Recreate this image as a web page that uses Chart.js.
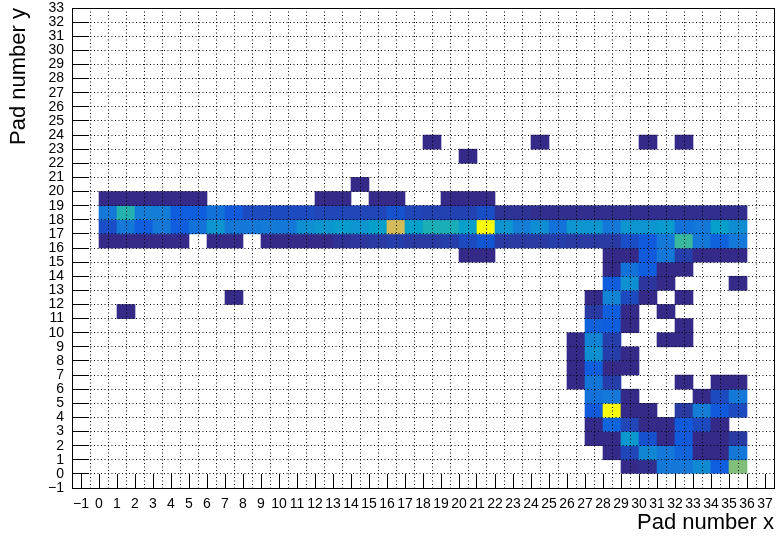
<!DOCTYPE html>
<html>
<head>
<meta charset="utf-8">
<title>Pad map</title>
<script src="https://cdn.jsdelivr.net/npm/chart.js@4.4.1/dist/chart.umd.min.js"></script>
<style>
    html, body { margin: 0; padding: 0; background: #fff; }
    #wrap { width: 782px; height: 540px; }
</style>
</head>
<body>
<div id="wrap"><canvas id="padmap" width="782" height="540"></canvas></div>
<script>
// Axis ranges / titles
const xMin = -1, xMax = 37
const yMin = -1, yMax = 33
const xTitle = "Pad number x"
const yTitle = "Pad number y"

// Hits per pad row, pad x = 0..35 (0 = empty pad)
//            x: 0 ...                          10 ...                         20 ...                         30 ... 35
const row0  = [0,0,0,0,0,0,0,0,0,0,  0,0,0,0,0,0,0,0,0,0,  0,0,0,0,0,0,0,0,0,1,  2,23,23,29,14,62]
const row1  = [0,0,0,0,0,0,0,0,0,0,  0,0,0,0,0,0,0,0,0,0,  0,0,0,0,0,0,0,0,1,8,  28,23,16,1,1,23]
const row2  = [0,0,0,0,0,0,0,0,0,0,  0,0,0,0,0,0,0,0,0,0,  0,0,0,0,0,0,0,1,1,34, 11,1,13,1,1,5]
const row3  = [0,0,0,0,0,0,0,0,0,0,  0,0,0,0,0,0,0,0,0,0,  0,0,0,0,0,0,0,1,16,8, 1,1,13,9,1,0]
const row4  = [0,0,0,0,0,0,0,0,0,0,  0,0,0,0,0,0,0,0,0,0,  0,0,0,0,0,0,0,13,100,1, 1,0,5,25,13,9]
const row5  = [0,0,0,0,0,0,0,0,0,0,  0,0,0,0,0,0,0,0,0,0,  0,0,0,0,0,0,0,21,23,1, 0,0,0,1,9,23]
const row6  = [0,0,0,0,0,0,0,0,0,0,  0,0,0,0,0,0,0,0,0,0,  0,0,0,0,0,0,1,22,6,0, 0,0,1,0,1,1]
const row7  = [0,0,0,0,0,0,0,0,0,0,  0,0,0,0,0,0,0,0,0,0,  0,0,0,0,0,0,1,14,1,1, 0,0,0,0,0,0]
const row8  = [0,0,0,0,0,0,0,0,0,0,  0,0,0,0,0,0,0,0,0,0,  0,0,0,0,0,0,1,31,6,1, 0,0,0,0,0,0]
const row9  = [0,0,0,0,0,0,0,0,0,0,  0,0,0,0,0,0,0,0,0,0,  0,0,0,0,0,0,1,27,6,0, 0,1,1,0,0,0]
const row10 = [0,0,0,0,0,0,0,0,0,0,  0,0,0,0,0,0,0,0,0,0,  0,0,0,0,0,0,0,15,14,1, 0,0,1,0,0,0]
const row11 = [0,1,0,0,0,0,0,0,0,0,  0,0,0,0,0,0,0,0,0,0,  0,0,0,0,0,0,0,5,14,1,  0,1,0,0,0,0]
const row12 = [0,0,0,0,0,0,0,1,0,0,  0,0,0,0,0,0,0,0,0,0,  0,0,0,0,0,0,0,1,27,9,  1,0,1,0,0,0]
const row13 = [0,0,0,0,0,0,0,0,0,0,  0,0,0,0,0,0,0,0,0,0,  0,0,0,0,0,0,0,0,14,31, 4,1,0,0,0,1]
const row14 = [0,0,0,0,0,0,0,0,0,0,  0,0,0,0,0,0,0,0,0,0,  0,0,0,0,0,0,0,0,1,21,  14,1,1,0,0,0]
const row15 = [0,0,0,0,0,0,0,0,0,0,  0,0,0,0,0,0,0,0,0,0,  1,1,0,0,0,0,0,0,1,1,   13,23,6,1,1,1]
const row16 = [1,1,1,1,1,0,1,1,0,1,  1,1,1,3,4,5,6,5,5,6,  9,12,5,5,5,6,5,5,5,10, 13,23,52,23,15,23]
const row17 = [10,23,14,23,14,21,33,23,23,24,  23,31,33,35,33,37,76,37,45,44,  37,100,33,25,30,21,33,33,23,33,  33,35,21,23,37,30]
const row18 = [23,47,25,25,14,14,21,13,9,9,  9,9,8,8,8,8,11,8,7,7,  7,10,3,3,2,2,2,2,2,2,  2,2,2,2,2,2]
const row19 = [1,1,1,1,1,1,0,0,0,0,  0,0,1,1,0,1,1,0,0,1,  1,1,0,0,0,0,0,0,0,0,  0,0,0,0,0,0]
const row20 = [0,0,0,0,0,0,0,0,0,0,  0,0,0,0,1,0,0,0,0,0,  0,0,0,0,0,0,0,0,0,0,  0,0,0,0,0,0]
const row21 = [0,0,0,0,0,0,0,0,0,0,  0,0,0,0,0,0,0,0,0,0,  0,0,0,0,0,0,0,0,0,0,  0,0,0,0,0,0]
const row22 = [0,0,0,0,0,0,0,0,0,0,  0,0,0,0,0,0,0,0,0,0,  1,0,0,0,0,0,0,0,0,0,  0,0,0,0,0,0]
const row23 = [0,0,0,0,0,0,0,0,0,0,  0,0,0,0,0,0,0,0,1,0,  0,0,0,0,1,0,0,0,0,0,  1,0,1,0,0,0]
const rows = [row0, row1, row2, row3, row4, row5, row6, row7, row8, row9, row10, row11,
    row12, row13, row14, row15, row16, row17, row18, row19, row20, row21, row22, row23]

// ROOT kBird palette
const birdStops = [0.0, 0.125, 0.25, 0.375, 0.5, 0.625, 0.75, 0.875, 1.0]
const birdR = [0.2082, 0.0592, 0.0780, 0.0232, 0.1802, 0.5301, 0.8186, 0.9956, 0.9764]
const birdG = [0.1664, 0.3599, 0.5041, 0.6419, 0.7178, 0.7492, 0.7328, 0.7862, 0.9832]
const birdB = [0.5293, 0.8684, 0.8385, 0.7914, 0.6425, 0.4662, 0.3499, 0.1968, 0.0539]

const fontFamily = "'Liberation Sans', Arial, Helvetica, sans-serif"

// build cells, each pad covers [x, x+1] x [y, y+1]
const cells = []
rows.forEach((row, y) => {
    row.forEach((v, x) => {
        if (v > 0) cells.push({ x: x + 0.5, y: [y, y + 1], v: v })
    })
})
const zMin = Math.min(...cells.map(c => c.v))
const zMax = Math.max(...cells.map(c => c.v))

const birdColor = (v) => {
    let f = (v - zMin) / (zMax - zMin)
    f = Math.max(0, Math.min(1, f))
    let i = 0
    while (i < birdStops.length - 2 && f > birdStops[i + 1]) i++
    const t = (f - birdStops[i]) / (birdStops[i + 1] - birdStops[i])
    const mix = (arr) => Math.round(255 * (arr[i] + t * (arr[i + 1] - arr[i])))
    return `rgb(${mix(birdR)},${mix(birdG)},${mix(birdB)})`
}

const tickText = (v) => v < 0 ? '\u2212' + Math.abs(v) : String(v)

// frame + solid inner tick marks like ROOT draws them
const frameTicks = {
    id: 'frameTicks',
    afterDraw(chart) {
        const { ctx, chartArea: a, scales: { x, y } } = chart
        const al = (p) => Math.round(p - 0.5) + 0.5
        ctx.save()
        ctx.strokeStyle = '#000'
        ctx.lineWidth = 1
        ctx.beginPath()
        for (let v = xMin; v <= xMax; v++) {
            const px = al(x.getPixelForValue(v))
            ctx.moveTo(px, a.bottom)
            ctx.lineTo(px, a.bottom - 14)
        }
        for (let v = yMin; v <= yMax; v++) {
            const py = al(y.getPixelForValue(v))
            ctx.moveTo(a.left, py)
            ctx.lineTo(a.left + 17, py)
        }
        ctx.stroke()
        ctx.strokeRect(al(a.left), al(a.top), al(a.right) - al(a.left), al(a.bottom) - al(a.top))
        ctx.restore()
    }
}

const ctx = document.getElementById("padmap").getContext('2d')
const chart = new Chart(ctx, {
    type: 'bar',
    data: {
        datasets: [{
            data: cells,
            backgroundColor: (c) => c.raw ? birdColor(c.raw.v) : 'transparent',
            borderWidth: 0,
            barPercentage: 1,
            categoryPercentage: 1
        }]
    },
    options: {
        responsive: false,
        animation: false,
        devicePixelRatio: 1,
        layout: { padding: { top: 0, right: 8, left: 0, bottom: 0 } },
        plugins: {
            legend: { display: false },
            tooltip: { enabled: false }
        },
        scales: {
            x: {
                type: 'linear',
                min: xMin,
                max: xMax,
                afterFit: (s) => { s.height = 52 },
                grid: { color: '#000', lineWidth: 1, drawTicks: false, z: 1 },
                border: { display: true, color: '#000', width: 1, dash: [1, 2.5], z: 1 },
                ticks: {
                    stepSize: 1,
                    autoSkip: false,
                    maxRotation: 0,
                    minRotation: 0,
                    padding: 8,
                    color: '#000',
                    font: { family: fontFamily, size: 14 },
                    callback: (v) => tickText(v)
                },
                title: {
                    display: true,
                    text: xTitle,
                    align: 'end',
                    color: '#000',
                    font: { family: fontFamily, size: 22 },
                    padding: { top: 0, bottom: 4 }
                }
            },
            y: {
                type: 'linear',
                min: yMin,
                max: yMax,
                afterFit: (s) => {
                    s.width = 72
                    s.paddingTop = 8
                    s.paddingBottom = 0
                },
                grid: { color: '#000', lineWidth: 1, drawTicks: false, z: 1 },
                border: { display: true, color: '#000', width: 1, dash: [1, 2.5], z: 1 },
                ticks: {
                    stepSize: 1,
                    autoSkip: false,
                    padding: 8,
                    color: '#000',
                    font: { family: fontFamily, size: 14 },
                    callback: (v) => tickText(v)
                },
                title: {
                    display: true,
                    text: yTitle,
                    align: 'end',
                    color: '#000',
                    font: { family: fontFamily, size: 22 },
                    padding: { top: 6, bottom: 0 }
                }
            }
        }
    },
    plugins: [frameTicks]
})
</script>
</body>
</html>
